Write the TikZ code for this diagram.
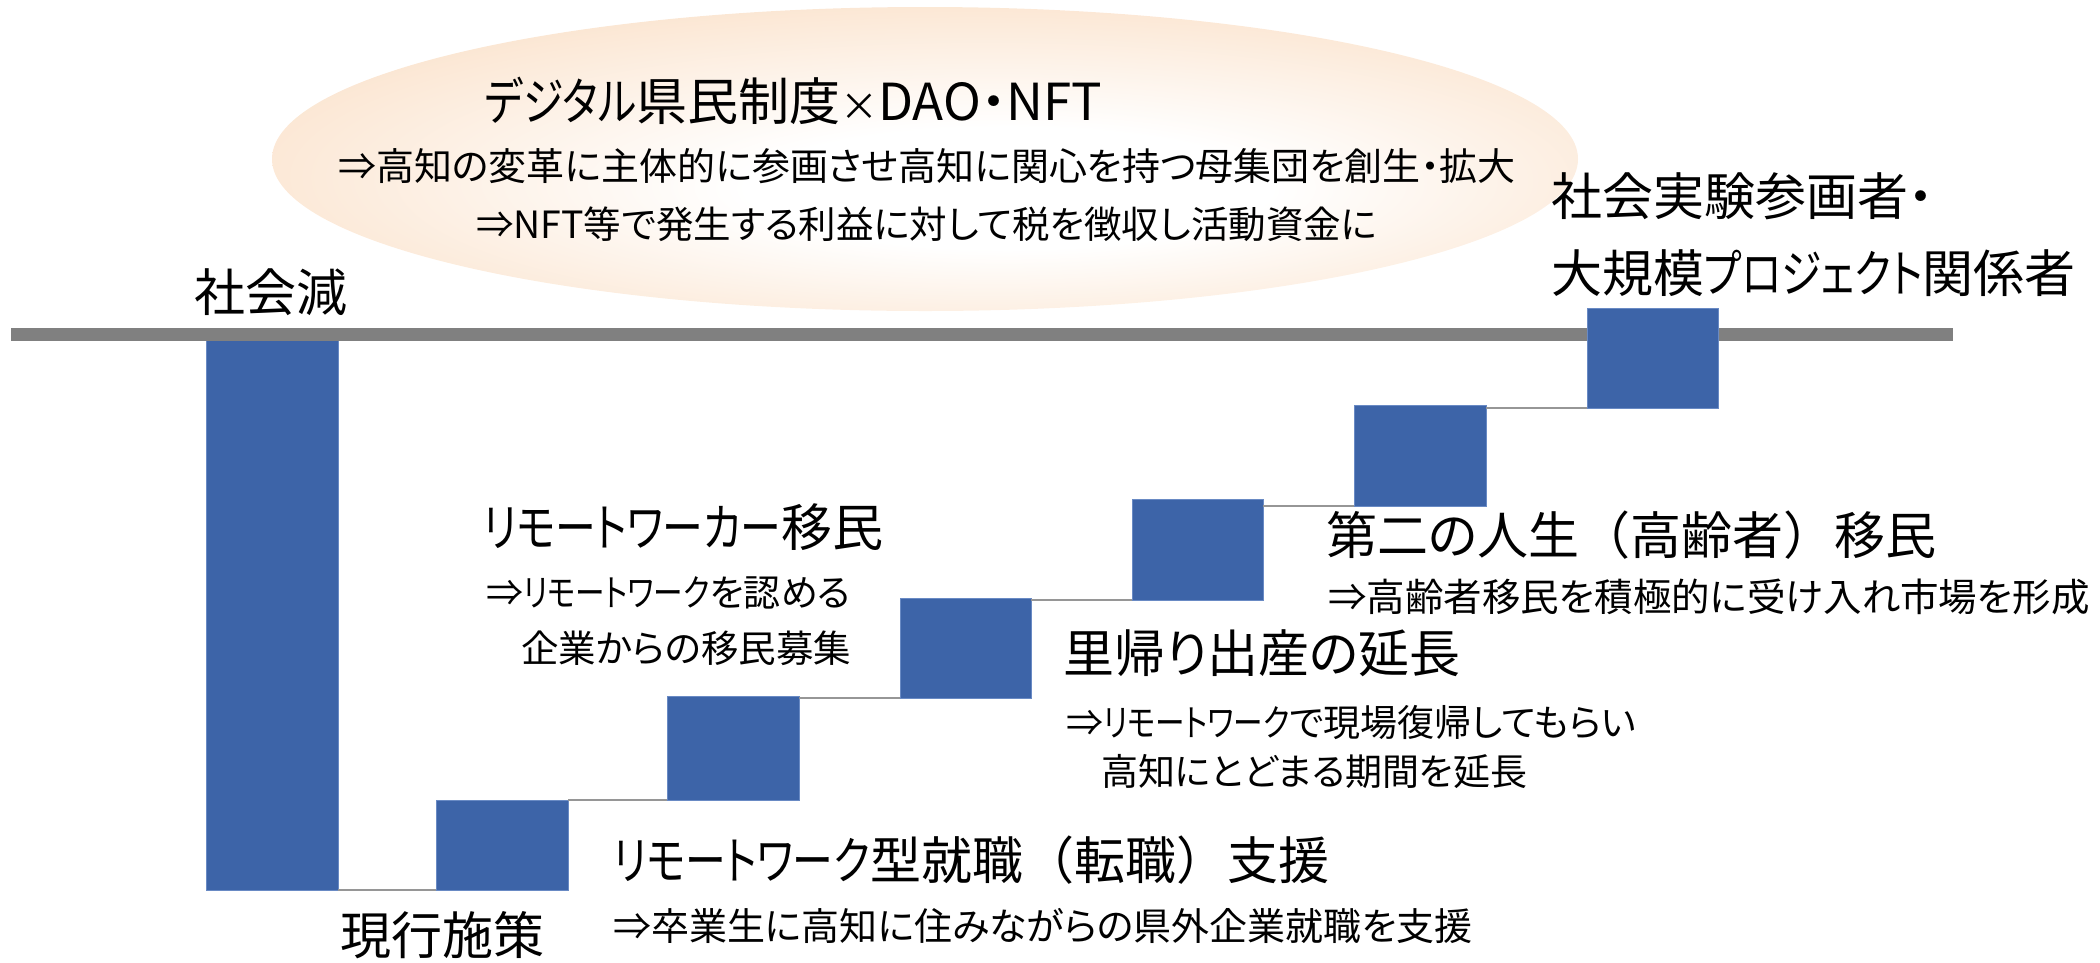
\documentclass[tikz,border=0pt]{standalone}
\usepackage{fontspec}
\setmainfont{Noto Sans CJK JP}[RawFeature=+palt]
\newfontfamily\katafont{Noto Sans CJK JP}[RawFeature=+palt, FakeStretch=0.8]
\newfontfamily\fullfont{Noto Sans CJK JP}
\newcommand\kt[1]{{\katafont #1}}
\newcommand\fw[1]{{\fullfont #1}}
\usetikzlibrary{shapes.geometric}
\definecolor{barblue}{RGB}{61,100,168}
\definecolor{baredge}{RGB}{105,138,196}
\definecolor{axisgray}{RGB}{128,128,128}
\definecolor{conngray}{RGB}{150,150,150}
\definecolor{peach}{RGB}{247,202,160}
\pgfdeclareradialshading{ellsh}{\pgfpoint{4bp}{-6bp}}{color(0bp)=(white); color(10bp)=(white); color(50bp)=(peach)}
\begin{document}
\begin{tikzpicture}[x=1pt,y=-1pt,
  bar/.style={fill=barblue, draw=baredge, line width=1pt, inner sep=0pt, outer sep=0pt, minimum width=132pt},
  conn/.style={draw=conngray, line width=2pt},
  head/.style={font=\fontsize{51}{60}\selectfont, anchor=west, inner sep=0pt},
  subtext/.style={font=\fontsize{37}{42}\selectfont, anchor=west, inner sep=0pt},
  etitle/.style={font=\fontsize{51}{58}\selectfont, anchor=west, inner sep=0pt},
  eline/.style={font=\fontsize{37.5}{44}\selectfont, anchor=west, inner sep=0pt}]
\useasboundingbox (0,0) rectangle (2100,962);
% ellipse
\node[ellipse, shading=ellsh, minimum width=1306pt, minimum height=304pt, inner sep=0pt] (ell) at (925,159) {};
\node[etitle] (t1) at (485,101) {\kt{デジタル}県民制度{\fontsize{38}{44}\selectfont ×}DAO・NFT};
\node[eline, font=\fontsize{38}{44}\selectfont] (t2) at (338,166) {⇒高知の変革に主体的に参画させ高知に関心を持つ母集団を創生・拡大};
\node[eline] (t3) at (476,224) {⇒NFT等で発生する利益に対して税を徴収し活動資金に};
% bars
\node[bar, minimum height=558pt] (b1) at (272,611) {};
\coordinate (axL) at (11,334.5);
\coordinate (axR) at (1953,334.5);
\draw[axisgray, line width=12.5pt] (axL) -- (axR);
\node[bar, minimum height=90pt] (b2) at (502,845) {};
\node[bar, minimum height=104pt] (b3) at (733,748) {};
\node[bar, minimum height=100pt, minimum width=131pt] (b4) at (965.5,648) {};
\node[bar, minimum height=101pt, minimum width=131pt] (b5) at (1197.5,549.5) {};
\node[bar, minimum height=101pt] (b6) at (1420,455.5) {};
\node[bar, minimum height=100pt, minimum width=131pt] (b7) at (1652.5,358) {};
% connectors
\draw[conn] (b1.south east) -- (b2.south west);
\draw[conn] (b2.east |- b3.south west) -- (b3.south west);
\draw[conn] (b3.east |- b4.south west) -- (b4.south west);
\draw[conn] (b4.east |- b5.south west) -- (b5.south west);
\draw[conn] (b5.east |- b6.south west) -- (b6.south west);
\draw[conn] (b6.east |- b7.south west) -- (b7.south west);
% labels
\node[head] (l1) at (194,292) {社会減};
\node[head] (l2) at (340,935) {現行施策};
\node[head] (l3) at (483,527) {\kt{リモートワーカー}移民};
\node[subtext] (l3a) at (486,593) {⇒\kt{リモートワーク}を認める};
\node[subtext, font=\fontsize{37.5}{42}\selectfont] (l3b) at (521,648) {企業からの移民募集};
\node[head] (l4) at (1063,653) {里帰り出産の延長};
\node[subtext] (l4a) at (1066,722) {⇒\kt{リモートワーク}で現場復帰してもらい};
\node[subtext] (l4b) at (1101,771) {高知にとどまる期間を延長};
\node[head] (l5) at (1326,535) {第二の人生\fw{（}高齢者\fw{）}移民};
\node[subtext, font=\fontsize{38.5}{44}\selectfont] (l5a) at (1328,597) {⇒高齢者移民を積極的に受け入れ市場を形成};
\node[head] (l6) at (1551,196) {社会実験参画者・};
\node[head] (l6b) at (1551,273) {大規模\kt{プロジェクト}関係者};
\node[head] (l7) at (613,860) {\kt{リモートワーク}型就職\fw{（}転職\fw{）}支援};
\node[subtext, font=\fontsize{38}{44}\selectfont] (l7a) at (613,926) {⇒卒業生に高知に住みながらの県外企業就職を支援};
\end{tikzpicture}
\end{document}
